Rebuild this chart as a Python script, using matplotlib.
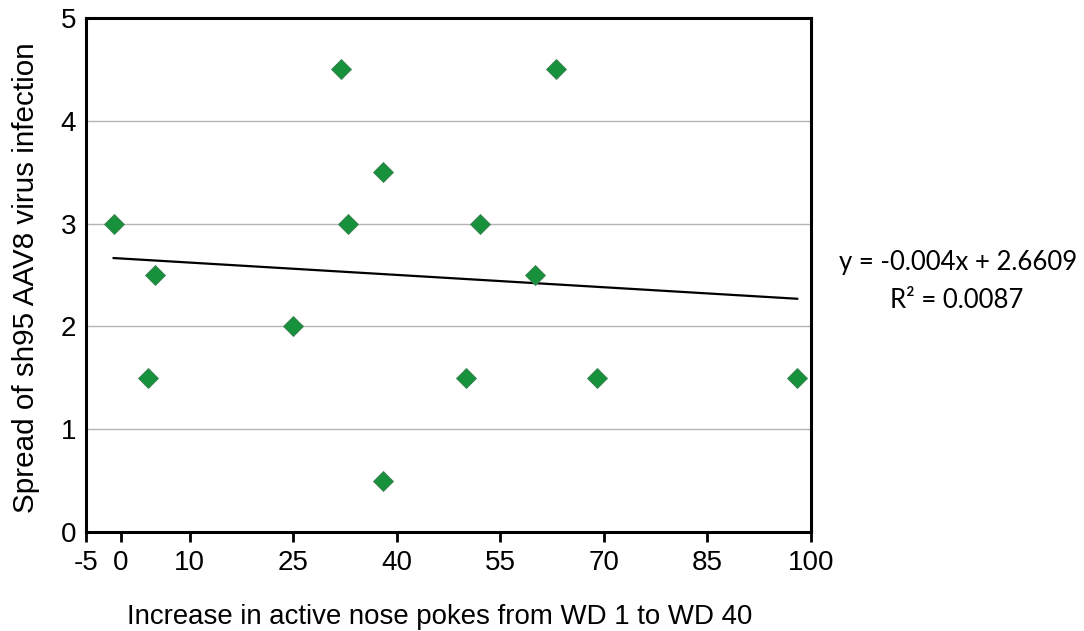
import numpy as np
import matplotlib
matplotlib.use("Agg")
from matplotlib import pyplot as plt

# data
pokes = [-1, 4, 5, 25, 32, 33, 38, 38, 50, 52, 60, 63, 69, 98]
spread = [3.0, 1.5, 2.5, 2.0, 4.5, 3.0, 3.5, 0.5, 1.5, 3.0, 2.5, 4.5, 1.5, 1.5]
slope = -0.004
intercept = 2.6609
r_squared = 0.0087
x_ticks = [-5, 0, 10, 25, 40, 55, 70, 85, 100]
y_ticks = [0, 1, 2, 3, 4, 5]

plt.rcParams['font.family'] = ['Liberation Sans', 'DejaVu Sans']
plt.rcParams['axes.unicode_minus'] = False

fig = plt.figure(figsize=(10.84, 6.31), dpi=100)
ax = fig.add_axes([86 / 1084, 99 / 631, 725 / 1084, 514 / 631])

# grid lines
for yv in y_ticks[1:-1]:
    ax.axhline(yv, color='#b4b4b4', lw=1.0, zorder=1)

# trend line over the data range
xs = np.array([min(pokes), max(pokes)])
ax.plot(xs, slope * xs + intercept, color='black', lw=1.6, zorder=2)

ax.plot(pokes, spread, linestyle='none', marker='D', ms=10.5,
        markerfacecolor='#17913b', markeredgecolor='#3f7f55', markeredgewidth=0.6, zorder=3)

ax.set_xlim(-5, 100)
ax.set_ylim(0, 5)
ax.set_xticks(x_ticks)
ax.set_yticks(y_ticks)
ax.tick_params(axis='x', direction='out', length=7, width=2, pad=6, labelsize=20)
ax.tick_params(axis='y', length=0, pad=7, labelsize=20)
for sp in ax.spines.values():
    sp.set_linewidth(2.2)

ax.set_xlabel('Increase in active nose pokes from WD 1 to WD 40', fontsize=19.9)
ax.set_ylabel('Spread of sh95 AAV8 virus infection', fontsize=21.3)
ax.xaxis.set_label_coords(0.488, -0.140)
ax.yaxis.set_label_coords(-0.064, 0.494)

fig.text(958 / 1084, 1 - 263 / 631, 'y = -0.004x + 2.6609', ha='center', va='center',
         fontsize=18.5, family=['Lato', 'DejaVu Sans'])
fig.text(957 / 1084, 1 - 300 / 631, 'R² = %.4f' % r_squared, ha='center', va='center',
         fontsize=18.5, family=['Lato', 'DejaVu Sans'])

fig.savefig('out.png', dpi=100)
